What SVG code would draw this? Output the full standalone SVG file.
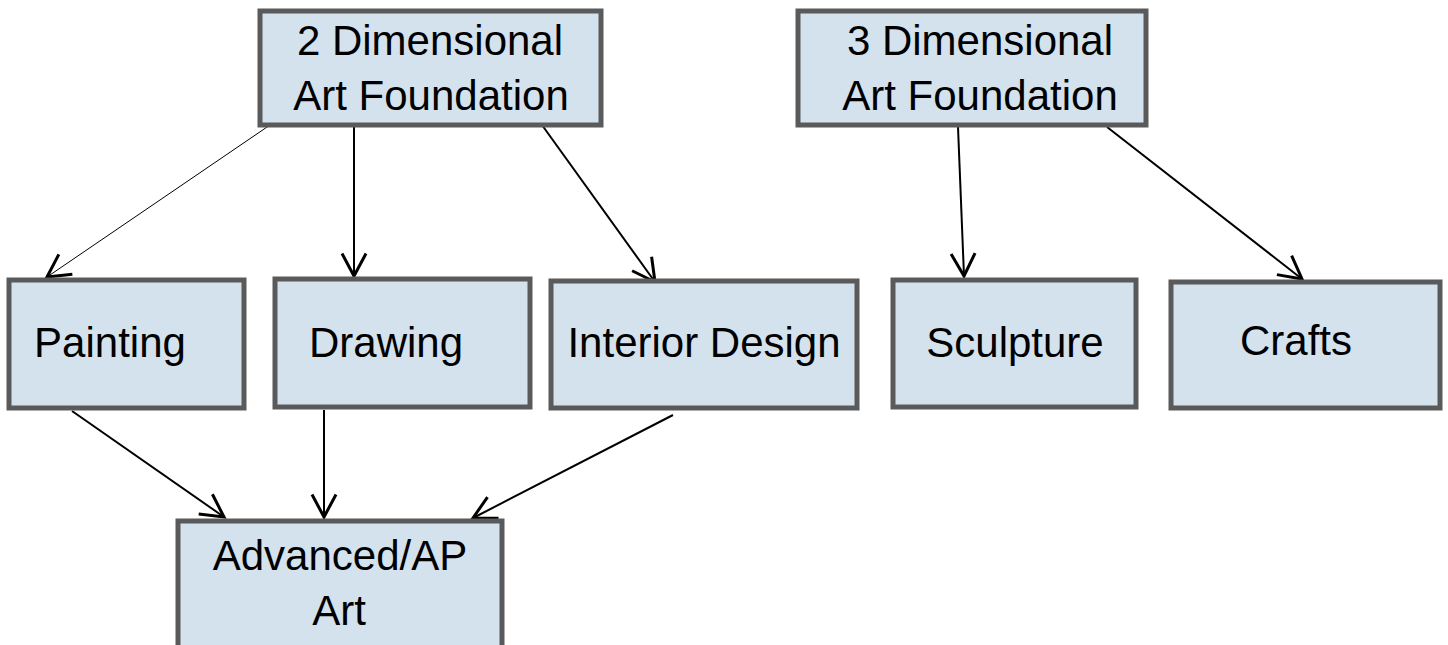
<svg xmlns="http://www.w3.org/2000/svg" width="1448" height="645" viewBox="0 0 1448 645">
<style>
.box{fill:#d4e2ed;stroke:#5a5a5a;stroke-width:5}
.lbl{font-family:"Liberation Sans",Arial,sans-serif;font-size:42px;fill:#000;text-anchor:middle}
.c{stroke:#000;stroke-width:2;fill:none;marker-end:url(#arr)}
</style>
<defs>
<marker id="arr" markerUnits="userSpaceOnUse" markerWidth="30" markerHeight="30" viewBox="-16 -10 20 20" refX="0" refY="0" orient="auto">
<path d="M-15,-8 L0,0 L-15,8" fill="none" stroke="#000" stroke-width="2"/>
</marker>
</defs>
<rect width="1448" height="645" fill="#fff"/>
<g id="connectors">
<line class="c" x1="270" y1="125" x2="47" y2="277" style="stroke-width:1"/>
<line class="c" x1="354" y1="125" x2="354" y2="276"/>
<line class="c" x1="542" y1="125" x2="655" y2="282"/>
<line class="c" x1="958" y1="127" x2="964" y2="276"/>
<line class="c" x1="1107" y1="127" x2="1302" y2="279"/>
<line class="c" x1="72" y1="411" x2="224" y2="517"/>
<line class="c" x1="324" y1="410" x2="324" y2="517"/>
<line class="c" x1="673" y1="415" x2="473" y2="518"/>
</g>
<g id="n2d"><rect class="box" x="260" y="11" width="341" height="114"/><text class="lbl" x="430" y="55">2 Dimensional</text><text class="lbl" x="431" y="110">Art Foundation</text></g>
<g id="n3d"><rect class="box" x="798" y="11" width="348" height="114"/><text class="lbl" x="980" y="55">3 Dimensional</text><text class="lbl" x="980" y="110">Art Foundation</text></g>
<g id="painting"><rect class="box" x="9" y="280" width="235" height="128"/><text class="lbl" x="110" y="357">Painting</text></g>
<g id="drawing"><rect class="box" x="275" y="279" width="255" height="128"/><text class="lbl" x="386" y="357">Drawing</text></g>
<g id="interior"><rect class="box" x="551" y="281" width="306" height="127"/><text class="lbl" x="704" y="357">Interior Design</text></g>
<g id="sculpture"><rect class="box" x="893" y="280" width="243" height="127"/><text class="lbl" x="1015" y="357">Sculpture</text></g>
<g id="crafts"><rect class="box" x="1171" y="282" width="269" height="126"/><text class="lbl" x="1296" y="355">Crafts</text></g>
<g id="advanced"><rect class="box" x="178" y="521" width="324" height="140"/><text class="lbl" x="340" y="570">Advanced/AP</text><text class="lbl" x="339" y="625">Art</text></g>
</svg>
